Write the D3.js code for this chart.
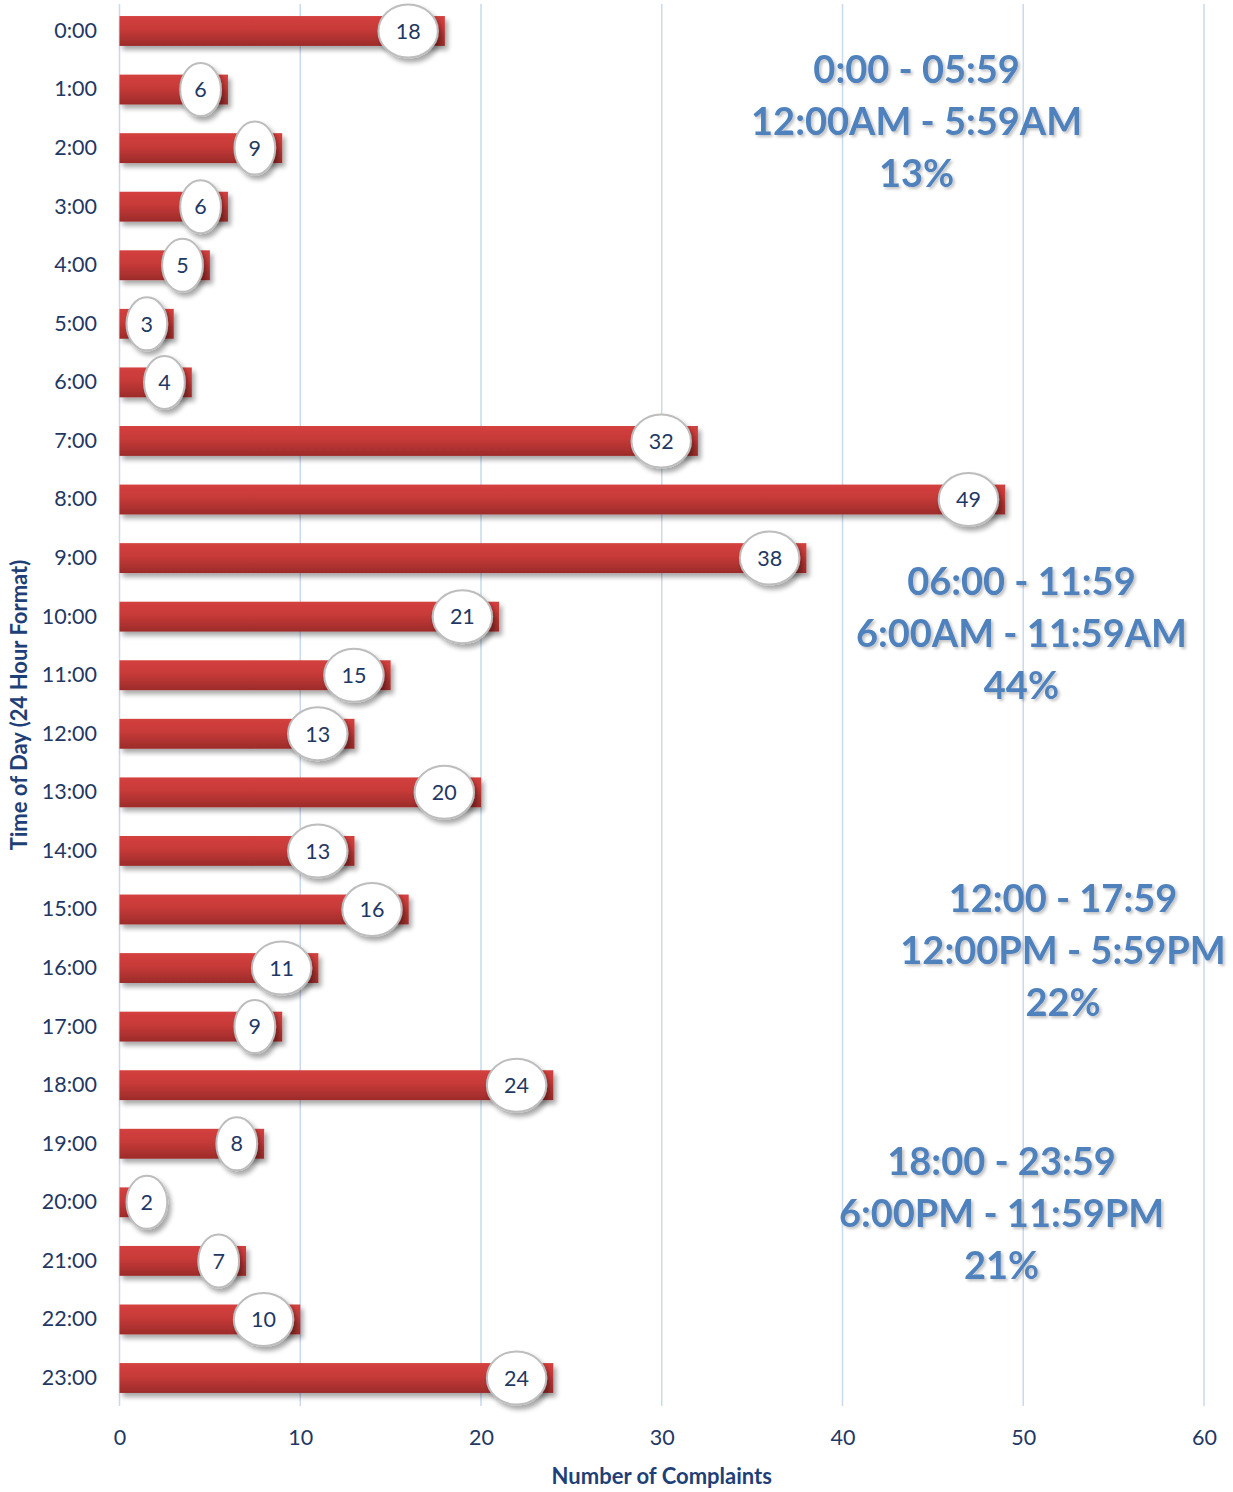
<!DOCTYPE html>
<html lang="en">
<head>
<meta charset="UTF-8">
<title>Complaints by time of day</title>
<script src="https://cdn.jsdelivr.net/npm/d3@7"></script>
<style>
	body{ margin:0; background:#fff; }
	text{ font-family: Lato, "Open Sans", sans-serif; }
	.tick text{ font-size:21.5px; fill:#1f3864; }
	.grid line{ stroke:#c9d9ee; stroke-width:1.5; }
	.axisTitle{ font-size:22px; font-weight:bold; fill:#1f3f77; }
	.bubble ellipse{ fill:#fff; stroke:#bdbdbd; stroke-width:2; }
	.bubble text{ font-size:21.5px; fill:#1f3864; }
	.note{ font-size:38px; font-weight:bold; fill:#4f81bd; }
</style>
</head>
<body>
<div id="main"></div>
<script>
	var hours = ["0:00","1:00","2:00","3:00","4:00","5:00","6:00","7:00","8:00","9:00","10:00","11:00",
		"12:00","13:00","14:00","15:00","16:00","17:00","18:00","19:00","20:00","21:00","22:00","23:00"];
	var complaints = [18,6,9,6,5,3,4,32,49,38,21,15,13,20,13,16,11,9,24,8,2,7,10,24];
	var xTicks = [0,10,20,30,40,50,60];

	var noteLines = [
		["0:00 - 05:59","12:00AM - 5:59AM","13%"],
		["06:00 - 11:59","6:00AM - 11:59AM","44%"],
		["12:00 - 17:59","12:00PM - 5:59PM","22%"],
		["18:00 - 23:59","6:00PM - 11:59PM","21%"]
	];

	var width = 1233, height = 1492;

	var svg = d3.select("#main").append("svg")
		.attr("width", width)
		.attr("height", height);

	var defs = svg.append("defs");
	var grad = defs.append("linearGradient")
		.attr("id","barGrad")
		.attr("x1",0).attr("y1",0).attr("x2",0).attr("y2",1);
	grad.append("stop").attr("offset","0%").attr("stop-color","#d4403e");
	grad.append("stop").attr("offset","45%").attr("stop-color","#c63a38");
	grad.append("stop").attr("offset","100%").attr("stop-color","#9c2b2a");

	var shadow = defs.append("filter").attr("id","shadow")
		.attr("x","-10%").attr("y","-30%").attr("width","130%").attr("height","180%");
	shadow.append("feGaussianBlur").attr("in","SourceAlpha").attr("stdDeviation",2.5);
	shadow.append("feOffset").attr("dx",3).attr("dy",4).attr("result","blur");
	shadow.append("feComponentTransfer").append("feFuncA").attr("type","linear").attr("slope",0.35);
	var sm = shadow.append("feMerge");
	sm.append("feMergeNode");
	sm.append("feMergeNode").attr("in","SourceGraphic");

	var txtShadow = defs.append("filter").attr("id","txtShadow")
		.attr("x","-5%").attr("y","-20%").attr("width","110%").attr("height","150%");
	txtShadow.append("feGaussianBlur").attr("in","SourceAlpha").attr("stdDeviation",1.5);
	txtShadow.append("feOffset").attr("dx",1.5).attr("dy",2);
	txtShadow.append("feComponentTransfer").append("feFuncA").attr("type","linear").attr("slope",0.25);
	var tm = txtShadow.append("feMerge");
	tm.append("feMergeNode");
	tm.append("feMergeNode").attr("in","SourceGraphic");

	var x = d3.scaleLinear().domain([0,60]).range([119.5,1204]);
	var y = d3.scaleBand().domain(hours).range([1.7,1407.3])
		.paddingInner(0.49).paddingOuter(0.245);

	// centre of a (fractional) row
	function rowY(r){ return y(hours[0]) + y.bandwidth()/2 + r*y.step(); }

	// gridlines
	svg.append("g").attr("class","grid")
		.selectAll("line").data(xTicks).enter().append("line")
		.attr("x1", function(d){return x(d);})
		.attr("x2", function(d){return x(d);})
		.attr("y1", 4)
		.attr("y2", 1406);

	// axes
	var xAxis = svg.append("g")
		.attr("transform","translate(0,1416)")
		.call(d3.axisBottom(x).tickValues(xTicks).tickSize(0).tickPadding(14));
	xAxis.select(".domain").remove();

	var yAxis = svg.append("g")
		.attr("transform","translate(97,0)")
		.call(d3.axisLeft(y).tickSize(0).tickPadding(0));
	yAxis.select(".domain").remove();

	// bars
	svg.append("g").selectAll("rect").data(complaints).enter().append("rect")
		.attr("x", x(0))
		.attr("y", function(d,i){return y(hours[i]);})
		.attr("width", function(d){return x(d)-x(0);})
		.attr("height", y.bandwidth())
		.attr("fill","url(#barGrad)")
		.attr("filter","url(#shadow)");

	// data label bubbles
	var bubbles = svg.append("g").selectAll("g").data(complaints).enter().append("g")
		.attr("class","bubble");
	bubbles.append("ellipse").attr("filter","url(#shadow)");
	bubbles.append("text")
		.attr("text-anchor","middle")
		.attr("dy","0.36em")
		.text(function(d){return d;});
	bubbles.each(function(d,i){
		var g = d3.select(this);
		var tw = g.select("text").node().getComputedTextLength();
		var rx = tw*0.75 + 11;
		var cx = Math.max(x(d) - 7 - rx, x(0) + 7 + rx);
		var cy = y(hours[i]) + y.bandwidth()/2;
		g.select("ellipse").attr("cx",cx).attr("cy",cy).attr("rx",rx).attr("ry",26.5);
		g.select("text").attr("x",cx).attr("y",cy);
	});

	// axis titles
	svg.append("text").attr("class","axisTitle")
		.attr("x", x(30)).attr("y", 1484)
		.attr("text-anchor","middle")
		.text("Number of Complaints");
	svg.append("text").attr("class","axisTitle")
		.attr("transform","translate(27,705) rotate(-90)")
		.attr("text-anchor","middle")
		.text("Time of Day (24 Hour Format)");

	// period notes: [x value, row of first line]
	var notePos = [[44.1,0.89],[49.9,9.63],[52.2,15.04],[48.8,19.53]];
	noteLines.forEach(function(lines,k){
		var cx = x(notePos[k][0]);
		var cy = rowY(notePos[k][1]);
		var t = svg.append("text").attr("class","note")
			.attr("text-anchor","middle")
			.attr("filter","url(#txtShadow)");
		lines.forEach(function(s,j){
			t.append("tspan").attr("x",cx).attr("y",cy + j*52).text(s);
		});
	});
</script>
</body>
</html>
